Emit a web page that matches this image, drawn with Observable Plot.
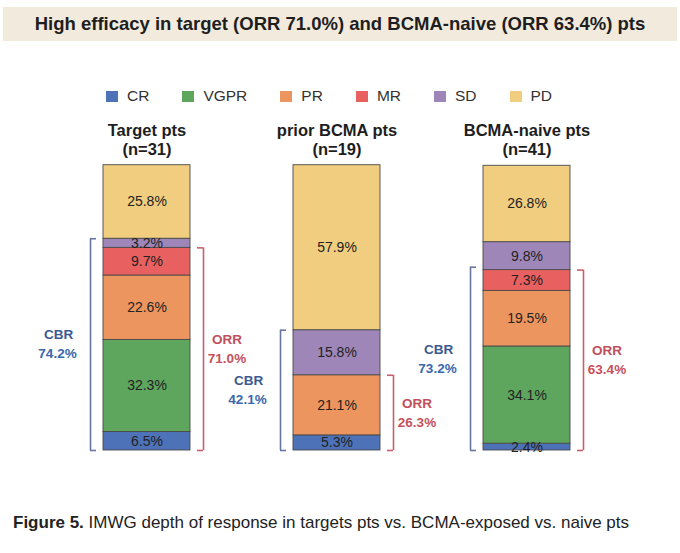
<!DOCTYPE html>
<html><head><meta charset="utf-8">
<script src="https://cdn.jsdelivr.net/npm/d3@7"></script>
<script src="https://cdn.jsdelivr.net/npm/@observablehq/plot@0.6"></script>
<style>
body{margin:0;background:#fff;font-family:"Liberation Sans",Arial,sans-serif;}
#wrap{position:relative;width:680px;height:553px;overflow:hidden;background:#fff;}
#banner{position:absolute;left:3px;top:7px;width:674px;height:34px;background:#f2ebdd;display:flex;align-items:center;justify-content:center;font-weight:bold;font-size:18.5px;color:#1e1e1e;}
#legend{position:absolute;left:106px;top:86px;display:flex;gap:33px;font-size:15.5px;color:#333;line-height:20px;}
.item{display:flex;align-items:center;gap:9px;}
.sw{width:12px;height:11px;display:inline-block;}
#chart{position:absolute;left:0;top:110px;}
#caption{position:absolute;left:13px;top:512px;font-size:17px;color:#222;line-height:22px;white-space:nowrap;}
</style></head>
<body>
<div id="wrap">
  <div id="banner">High efficacy in target (ORR 71.0%) and BCMA-naive (ORR 63.4%) pts</div>
  <div id="legend"></div>
  <div id="chart"></div>
  <div id="caption"><b>Figure 5.</b> IMWG depth of response in targets pts vs. BCMA-exposed vs. naive pts</div>
</div>
<script>
const groups = ["Target pts", "prior BCMA pts", "BCMA-naive pts"];
const groupN = ["(n=31)", "(n=19)", "(n=41)"];
const categories = ["CR", "VGPR", "PR", "MR", "SD", "PD"];
const colors = ["#4d72b8", "#5ea65e", "#ed955f", "#e8605f", "#9e86b8", "#f0cd7f"];
const targetValues = [6.5, 32.3, 22.6, 9.7, 3.2, 25.8];
const priorValues = [5.3, 0, 21.1, 0, 15.8, 57.9];
const naiveValues = [2.4, 34.1, 19.5, 7.3, 9.8, 26.8];
const cbrLabels = ["74.2%", "42.1%", "73.2%"];
const orrLabels = ["71.0%", "26.3%", "63.4%"];
const cbrSpan = [74.3, 42.2, 64.3];
const orrSpan = [71.1, 26.4, 63.3];

const allValues = [targetValues, priorValues, naiveValues];
const rows = [];
groups.forEach((g, gi) => categories.forEach((c, ci) => {
  const v = allValues[gi][ci];
  if (v > 0) rows.push({group: g, category: c, value: v});
}));
const cbr = groups.map((g, i) => ({group: g, span: cbrSpan[i], label: cbrLabels[i]}));
const orr = groups.map((g, i) => ({group: g, span: orrSpan[i], label: orrLabels[i]}));
const ends = arr => arr.flatMap(d => [{group: d.group, y: 0}, {group: d.group, y: d.span}]);

// legend
const legend = document.getElementById("legend");
categories.forEach((c, i) => {
  const it = document.createElement("div");
  it.className = "item";
  it.innerHTML = `<span class="sw" style="background:${colors[i]}"></span><span>${c}</span>`;
  legend.appendChild(it);
});

const W = 680, H = 360, ml = 40, mr = 47.5, mt = 55, mb = 20, pi = 0.544, po = 0.325;
const bw = d3.scaleBand().domain(groups).range([ml, W - mr]).paddingInner(pi).paddingOuter(po).bandwidth();
const cbrStroke = "#6676a0", orrStroke = "#c8606c";

const chart = Plot.plot({
  width: W, height: H,
  marginLeft: ml, marginRight: mr, marginTop: mt, marginBottom: mb,
  x: {domain: groups, axis: null, paddingInner: pi, paddingOuter: po},
  y: {domain: [0, 100], axis: null},
  color: {domain: categories, range: colors},
  style: {fontFamily: "Liberation Sans, Arial, sans-serif", background: "transparent", overflow: "visible"},
  marks: [
    Plot.barY(rows, {x: "group", y: "value", z: "category", fill: "category", stroke: "#4a4a4a", strokeWidth: 0.9}),
    Plot.text(rows, Plot.stackY({x: "group", y: "value", z: "category", text: d => d.value.toFixed(1) + "%", fontSize: 14, fill: "#222"})),
    Plot.text(groups, {x: d => d, text: (d, i) => d + "\n" + groupN[i], frameAnchor: "top", dy: -26.5, lineAnchor: "middle", lineHeight: 1.17, fontWeight: "bold", fontSize: 16.5, fill: "#1e1e1e"}),
    // CBR brackets
    Plot.ruleX(cbr, {x: "group", y1: 0, y2: "span", dx: -bw / 2 - 13, stroke: cbrStroke, strokeWidth: 1.6}),
    Plot.tickY(ends(cbr), {x: "group", y: "y", insetLeft: -13, insetRight: bw + 7, stroke: cbrStroke, strokeWidth: 1.6}),
    Plot.text(cbr, {x: "group", y: d => d.span / 2, text: () => "CBR", dx: -bw / 2 - 45, dy: -9.5, fontWeight: "bold", fontSize: 13.5, fill: "#3c5a92"}),
    Plot.text(cbr, {x: "group", y: d => d.span / 2, text: "label", dx: -bw / 2 - 46, dy: 9.5, fontWeight: "bold", fontSize: 13.5, fill: "#3a67ae"}),
    // ORR brackets
    Plot.ruleX(orr, {x: "group", y1: 0, y2: "span", dx: bw / 2 + 13, stroke: orrStroke, strokeWidth: 1.6}),
    Plot.tickY(ends(orr), {x: "group", y: "y", insetLeft: bw + 7, insetRight: -13, stroke: orrStroke, strokeWidth: 1.6}),
    Plot.text(orr, {x: "group", y: d => d.span / 2, text: () => "ORR", dx: bw / 2 + 36.5, dy: -9.5, fontWeight: "bold", fontSize: 13.5, fill: "#c0505e"}),
    Plot.text(orr, {x: "group", y: d => d.span / 2, text: "label", dx: bw / 2 + 36.5, dy: 9.5, fontWeight: "bold", fontSize: 13.5, fill: "#c8505a"})
  ]
});
document.getElementById("chart").appendChild(chart);
</script>
</body></html>
